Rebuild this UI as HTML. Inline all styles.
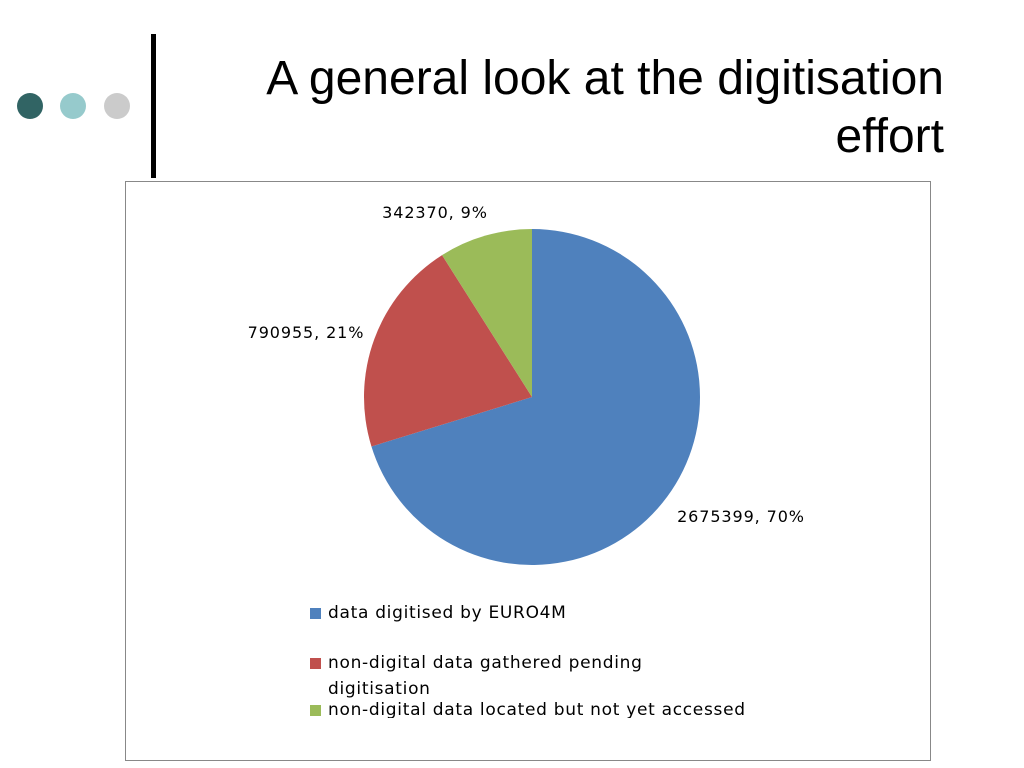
<!DOCTYPE html>
<html><head><meta charset="utf-8"><style>
body{margin:0;width:1024px;height:768px;background:#fff;position:relative;overflow:hidden;font-family:"Liberation Sans",sans-serif}
.dot{position:absolute;width:26px;height:26px;border-radius:50%;top:93px}
#title{position:absolute;right:80px;top:50px;text-align:right;font-size:48px;line-height:58px;color:#000;white-space:nowrap}
#vbar{position:absolute;left:151px;top:34px;width:5px;height:144px;background:#000}
#box{position:absolute;left:125px;top:181px;width:804px;height:578px;border:1.5px solid #888}
.lbl{font-family:"DejaVu Sans",sans-serif;font-size:16px;letter-spacing:0.9px;fill:#000}
#legend{position:absolute;left:310px;top:600px;width:460px;height:118px;overflow:hidden;font-family:"DejaVu Sans",sans-serif;font-size:17px;letter-spacing:0.7px;line-height:26px}
.li{position:relative;padding-left:18px;white-space:nowrap}
.sw{position:absolute;left:0;top:8px;width:11px;height:11px}
</style></head><body>
<div class="dot" style="left:17px;background:#316464"></div>
<div class="dot" style="left:60px;background:#96cacc"></div>
<div class="dot" style="left:104px;background:#cbcbcb"></div>
<div id="vbar"></div>
<div id="title">A general look at the digitisation<br>effort</div>
<div id="box"></div>
<svg id="pie" width="1024" height="768" style="position:absolute;left:0;top:0"></svg>
<div id="legend">
<div class="li"><span class="sw" style="background:#4f81bd"></span>data digitised by EURO4M</div>
<div style="height:24px"></div>
<div class="li"><span class="sw" style="background:#c0504d"></span>non-digital data gathered pending<br>digitisation</div>
<div class="li" style="margin-top:-5px"><span class="sw" style="background:#9bbb59"></span>non-digital data located but not yet accessed</div>
</div>
<script>
const categories=["data digitised by EURO4M","non-digital data gathered pending digitisation","non-digital data located but not yet accessed"];
const values=[2675399,790955,342370];
const percents=["70%","21%","9%"];
const colors=["#4f81bd","#c0504d","#9bbb59"];
const labelPos=[[741,522],[306,338],[435,218]];
const svg=document.getElementById('pie');
const NS="http://www.w3.org/2000/svg";
const cx=532,cy=397,r=168;
const total=values.reduce((a,b)=>a+b,0);
let a0=-Math.PI/2;
values.forEach((v,i)=>{
  const a1=a0+v/total*2*Math.PI;
  const x0=cx+r*Math.cos(a0),y0=cy+r*Math.sin(a0),x1=cx+r*Math.cos(a1),y1=cy+r*Math.sin(a1);
  const p=document.createElementNS(NS,'path');
  p.setAttribute('d',`M${cx},${cy}L${x0},${y0}A${r},${r} 0 ${a1-a0>Math.PI?1:0} 1 ${x1},${y1}Z`);
  p.setAttribute('fill',colors[i]);
  
  
  svg.appendChild(p);
  const t=document.createElementNS(NS,'text');
  t.setAttribute('x',labelPos[i][0]);t.setAttribute('y',labelPos[i][1]);
  t.setAttribute('text-anchor','middle');t.setAttribute('class','lbl');
  t.textContent=values[i]+', '+percents[i];
  
  
  svg.appendChild(t);
  a0=a1;
});
</script>
</body></html>
